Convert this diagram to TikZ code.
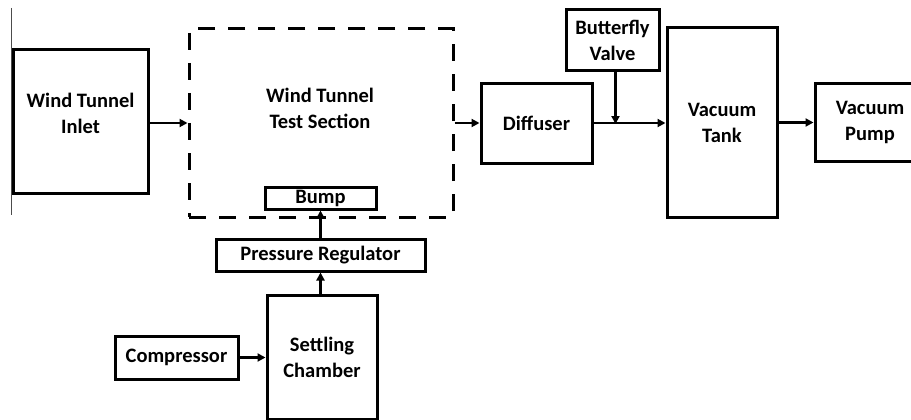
\documentclass[tikz,border=0pt]{standalone}
\usepackage{fontspec}
\setmainfont{Carlito}
\usetikzlibrary{arrows.meta}
\begin{document}
\begin{tikzpicture}[x=1pt,y=-1pt,
  box/.style={draw=black,line width=3pt,rectangle,inner sep=0pt,align=center,
    font=\bfseries\fontsize{20.5}{26}\selectfont},
  dbox/.style={box,dash pattern=on 17pt off 13pt},
  lbl/.style={inner sep=0pt,align=center,font=\bfseries\fontsize{20.5}{26}\selectfont},
  arr/.style={line width=2.2pt,-{Triangle[length=8pt,width=8pt]}}]
\useasboundingbox (0,0) rectangle (911,420);
\clip (0,0) rectangle (911,420);
% thin rule at the left edge
\draw[line width=0.8pt,black!70] (11,8) -- (11,215);
% boxes
\node[box,minimum width=135pt,minimum height=143pt] (inlet) at (80.5,121.5) {};
\node[lbl] (inlettxt) at (80.5,113) {Wind Tunnel\\Inlet};
\node[dbox,minimum width=264pt,minimum height=188pt] (test) at (321,123) {};
\node[lbl] (testtxt) at (320,108) {Wind Tunnel\\Test Section};
\node[box,minimum width=111pt,minimum height=22pt] (bump) at (320.5,198) {Bump};
\node[box,minimum width=209pt,minimum height=32pt] (preg) at (320.5,255) {Pressure Regulator};
\node[box,minimum width=110pt,minimum height=124pt] (settle) at (322,357) {Settling\\Chamber};
\node[box,minimum width=123pt,minimum height=43pt] (comp) at (176.5,357.5) {Compressor};
\node[box,minimum width=111pt,minimum height=79pt] (diff) at (536.5,123.5) {Diffuser};
\node[box,minimum width=93pt,minimum height=61pt] (valve) at (612.5,40.5) {Butterfly\\Valve};
\node[box,minimum width=110pt,minimum height=189pt] (tank) at (722,122.5) {Vacuum\\Tank};
\node[box,minimum width=110pt,minimum height=77pt] (pump) at (870,122.5) {Vacuum\\Pump};
% connectors
\draw[arr] (inlet.east |- test.west) -- (test.west);
\draw[arr] (test.east) -- (diff.west |- test.east);
\draw[arr] (diff.east |- test.east) -- (tank.west |- test.east);
\coordinate (join) at ([xshift=3pt]valve.south |- test.east);
\draw[arr] ([xshift=3pt]valve.south) -- ([yshift=-1pt]join);
\draw[arr] (tank.east |- pump.west) -- (pump.west);
\draw[arr] (preg.north) -- (bump.south);
\draw[arr] (settle.north -| preg.north) -- (preg.south);
\draw[arr] (comp.east) -- (settle.west |- comp.east);
\end{tikzpicture}
\end{document}
